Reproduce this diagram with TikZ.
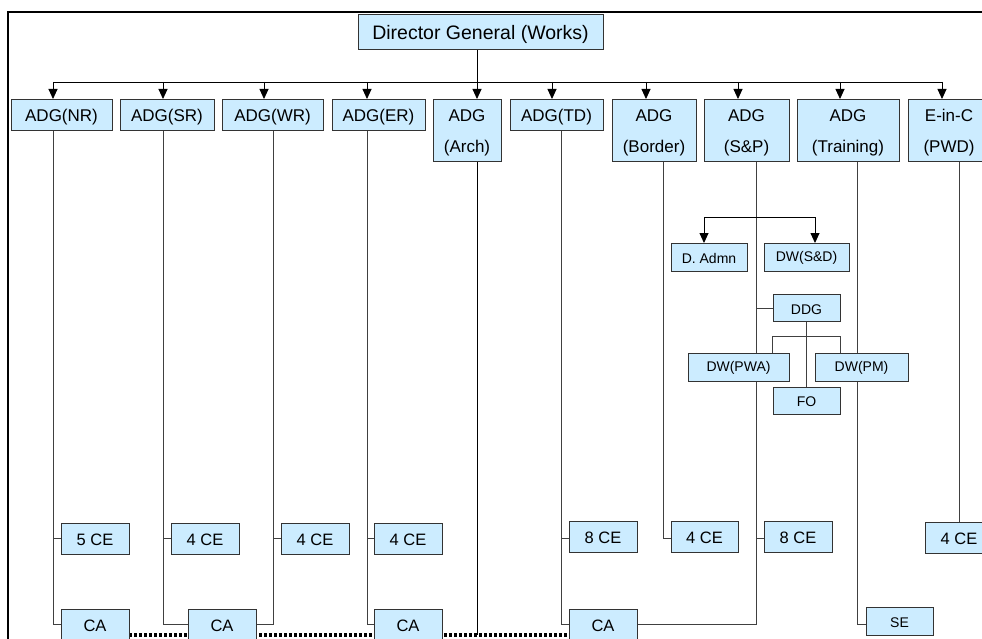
\documentclass[tikz,border=0pt]{standalone}
\usepackage{fontspec}
\setmainfont{Liberation Sans}
\usetikzlibrary{arrows.meta,backgrounds}
\definecolor{boxfill}{HTML}{CCECFF}
\definecolor{boxline}{HTML}{333333}
\definecolor{wirecol}{HTML}{404040}
% drop a line of text a little inside its box without changing its size
\newcommand{\lw}[1]{\raisebox{-2.8pt}[\height][\depth]{#1}}
\newcommand{\ls}[1]{\raisebox{-1.3pt}[\height][\depth]{#1}}
\begin{document}
\begin{tikzpicture}[x=1pt,y=-1pt,
  box/.style={draw=boxline, line width=0.9pt, fill=boxfill, inner sep=0pt,
    align=center, font=\fontsize{17}{31}\selectfont},
  big/.style={box, font=\fontsize{19.5}{24}\selectfont},
  mid/.style={box, font=\fontsize{16.5}{20}\selectfont},
  small/.style={box, font=\fontsize{14}{17}\selectfont},
  wire/.style={draw=wirecol, line width=0.9pt},
  arr/.style={draw=black, line width=0.9pt, -{Triangle[width=9pt,length=10pt]}},
  arrboth/.style={draw=black, line width=0.9pt,
    {Triangle[width=9pt,length=10pt]}-{Triangle[width=9pt,length=10pt]}},
  dots/.style={draw=black, line width=3.6pt, dash pattern=on 3pt off 2pt},
  frame/.style={draw=black, line width=1.6pt}]
\useasboundingbox (0,0) rectangle (982,639);
\clip (0,0) rectangle (982,639);

% head of the organisation
\node[big, minimum width=245pt, minimum height=35pt] (DG) at (480.5,31.5) {\lw{Director General (Works)}};

% ADG level
\node[box, minimum width=101pt, minimum height=31pt] (NR) at (61.5,114.5) {\lw{ADG(NR)}};
\node[box, minimum width=94pt, minimum height=31pt] (SR) at (167,114.5) {\lw{ADG(SR)}};
\node[box, minimum width=101pt, minimum height=31pt] (WR) at (272.5,114.5) {\lw{ADG(WR)}};
\node[box, minimum width=93pt, minimum height=31pt] (ER) at (378.5,114.5) {\lw{ADG(ER)}};
\node[box, minimum width=68pt, minimum height=62pt] (Arch) at (467,130) {\lw{ADG}\\\lw{(Arch)}};
\node[box, minimum width=93pt, minimum height=31pt] (TD) at (556.5,114.5) {\lw{ADG(TD)}};
\node[box, minimum width=84pt, minimum height=62pt] (Bd) at (654,130) {\lw{ADG}\\\lw{(Border)}};
\node[box, minimum width=85pt, minimum height=62pt] (SP) at (746.5,130) {\lw{ADG}\\\lw{(S\&P)}};
\node[box, minimum width=102pt, minimum height=62pt] (Tr) at (848,130) {\lw{ADG}\\\lw{(Training)}};
\node[box, minimum width=82pt, minimum height=62pt] (PWD) at (949,130) {\lw{E-in-C}\\\lw{(PWD)}};

% S&P directorates
\node[small, minimum width=76pt, minimum height=28pt] (DA) at (709,257) {\ls{D. Admn}};
\node[small, minimum width=85pt, minimum height=28pt] (SD) at (806.5,257) {\ls{DW(S\&D)}};
\node[small, minimum width=67pt, minimum height=27pt] (DDG) at (806.5,308) {\ls{DDG}};
\node[small, minimum width=101pt, minimum height=28pt] (PWA) at (738.5,367) {\ls{DW(PWA)}};
\node[small, minimum width=93pt, minimum height=28pt] (PM) at (861.5,367) {\ls{DW(PM)}};
\node[small, minimum width=67pt, minimum height=27pt] (FO) at (806.5,400.5) {\ls{FO}};

% chief engineers
\node[mid, minimum width=68pt, minimum height=31pt] (ceNR) at (95,538.5) {\ls{5 CE}};
\node[mid, minimum width=68pt, minimum height=31pt] (ceSR) at (205,538.5) {\ls{4 CE}};
\node[mid, minimum width=68pt, minimum height=31pt] (ceWR) at (315,538.5) {\ls{4 CE}};
\node[mid, minimum width=68pt, minimum height=31pt] (ceER) at (408,538.5) {\ls{4 CE}};
\node[mid, minimum width=68pt, minimum height=31pt] (ceTD) at (603,536.5) {\ls{8 CE}};
\node[mid, minimum width=67pt, minimum height=31pt] (ceBd) at (704.5,536.5) {\ls{4 CE}};
\node[mid, minimum width=68pt, minimum height=31pt] (ceSP) at (798,536.5) {\ls{8 CE}};
\node[mid, minimum width=68pt, minimum height=31pt] (cePWD) at (959,537.5) {\ls{4 CE}};

% chief architects and SE
\node[mid, minimum width=68pt, minimum height=31pt] (caNR) at (95,624.5) {\ls{CA}};
\node[mid, minimum width=68pt, minimum height=31pt] (caSW) at (222,624.5) {\ls{CA}};
\node[mid, minimum width=68pt, minimum height=31pt] (caER) at (408,624.5) {\ls{CA}};
\node[mid, minimum width=68pt, minimum height=31pt] (caTD) at (603,624.5) {\ls{CA}};
\node[small, minimum width=67pt, minimum height=28pt] (SE) at (899.5,621) {\ls{SE}};

% reference rows and columns of the connectors
\coordinate (bus) at (0,82);
\coordinate (brk) at (0,217);
\coordinate (brkb) at (0,336);
\coordinate (dotY) at (0,635);
\foreach \n/\x in {NR/53, SR/163, WR/264, ER/367, Arch/477, TD/552, Bd/646, SP/738, Tr/840, PWD/942}
  \coordinate (a\n) at (\x,99);
\foreach \n/\x in {NR/53, SR/163, WR/273, ER/367, Arch/477, TD/561, Bd/663, SP/756, Tr/857, PWD/959}
  \coordinate (l\n) at (\x,0);
\coordinate (aDA) at (704,243);
\coordinate (aSD) at (815,243);

\begin{scope}[on background layer]
  \draw[frame] (8,700) -- (8,12) -- (1000,12);

  % distribution bus from the Director General
  \draw[line width=0.9pt] (aNR |- bus) -- (aPWD |- bus);
  \draw[arr] (aArch |- DG.south) -- (aArch);
  \foreach \n in {NR, SR, WR, ER, TD, Bd, SP, Tr, PWD}
    \draw[arr] (a\n |- bus) -- (a\n);

  % link between the chief architects
  \draw[dots] (caNR.east |- dotY) -- (caTD.west |- dotY);

  % regional branches
  \draw[wire] (lNR |- NR.south) |- (caNR.west);
  \draw[wire] (lNR |- ceNR.west) -- (ceNR.west);
  \draw[wire] (lSR |- SR.south) |- (caSW.west);
  \draw[wire] (lSR |- ceSR.west) -- (ceSR.west);
  \draw[wire] (lWR |- WR.south) |- (caSW.east);
  \draw[wire] (lWR |- ceWR.west) -- (ceWR.west);
  \draw[wire] (lER |- ER.south) |- (caER.west);
  \draw[wire] (lER |- ceER.west) -- (ceER.west);
  \draw[line width=0.9pt] (lArch |- Arch.south) -- (lArch |- dotY);
  \draw[wire] (lTD |- TD.south) |- (caTD.west);
  \draw[wire] (lTD |- ceNR.west) -- (ceTD.west |- ceNR.west);
  \draw[wire] (lBd |- Bd.south) |- (ceBd.west |- ceNR.west);
  \draw[wire] (lSP |- SP.south) |- (caTD.east);
  \draw[wire] (lSP |- ceNR.west) -- (ceSP.west |- ceNR.west);
  \draw[wire] (lSP |- DDG.west) -- (DDG.west);
  \draw[wire] (lTr |- Tr.south) |- ([yshift=-3pt]SE.west);
  \draw[wire] (lPWD |- PWD.south) -- (cePWD.north);

  % S&P sub-structure
  \draw[arrboth] (aDA) -- (aDA |- brk) -- (aSD |- brk) -- (aSD);
  \draw[wire] (DDG.south) -- (FO.north);
  \draw[wire] (DDG.west |- PWA.north) -- (DDG.west |- brkb)
    -- (DDG.east |- brkb) -- (DDG.east |- PM.north);
\end{scope}
\end{tikzpicture}
\end{document}
